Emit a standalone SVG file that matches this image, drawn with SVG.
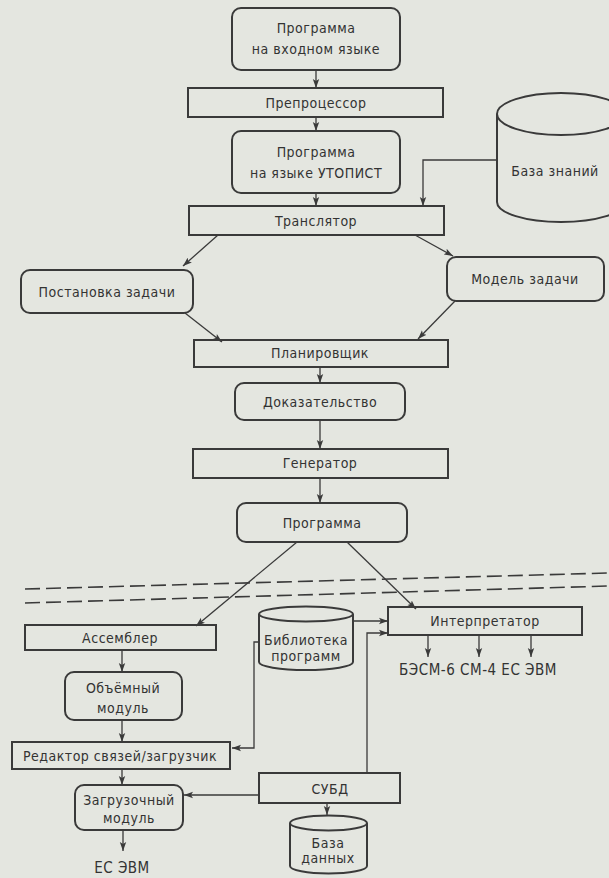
<svg xmlns="http://www.w3.org/2000/svg" width="609" height="878" viewBox="0 0 609 878">
<style>
.bg{fill:#e4e6e0}
.box{fill:none;stroke:#3a3a3a;stroke-width:2}
.t{font-family:"DejaVu Sans Condensed","DejaVu Sans","Liberation Sans",sans-serif;font-stretch:condensed;font-size:14px;fill:#333;text-anchor:middle;letter-spacing:0.5px}
.tb{font-size:15px}
.c{fill:none;stroke:#3a3a3a;stroke-width:1.3}
.d{fill:none;stroke:#3a3a3a;stroke-width:1.6;stroke-dasharray:15 6}
</style>
<defs>
<marker id="ah" markerWidth="10" markerHeight="8" refX="9" refY="4" orient="auto" markerUnits="userSpaceOnUse">
<path d="M0,0.8 L9,4 L0,7.2 L2,4 z" fill="#3a3a3a"/>
</marker>
</defs>
<rect class="bg" x="0" y="0" width="609" height="878"/>

<g id="connectors">
<path class="c" d="M316,70 V88" marker-end="url(#ah)"/>
<path class="c" d="M316,117 V131" marker-end="url(#ah)"/>
<path class="c" d="M316,193 V206" marker-end="url(#ah)"/>
<path class="c" d="M497,160 H423 V206" marker-end="url(#ah)"/>
<path class="c" d="M218,235 L183,266" marker-end="url(#ah)"/>
<path class="c" d="M415,235 L453,256" marker-end="url(#ah)"/>
<path class="c" d="M185,313 L222,342" marker-end="url(#ah)"/>
<path class="c" d="M455,301 L418,339" marker-end="url(#ah)"/>
<path class="c" d="M320,367 V383" marker-end="url(#ah)"/>
<path class="c" d="M320,420 V449" marker-end="url(#ah)"/>
<path class="c" d="M320,478 V503" marker-end="url(#ah)"/>
<path class="c" d="M297,542 L196,626" marker-end="url(#ah)"/>
<path class="c" d="M347,542 L416,609" marker-end="url(#ah)"/>
<path class="d" d="M25,589 L609,573"/>
<path class="d" d="M25,603 L609,586"/>
<path class="c" d="M353,621 H388" marker-end="url(#ah)"/>
<path class="c" d="M367,773 V633 H388" marker-end="url(#ah)"/>
<path class="c" d="M259,642 H254 V748 H232" marker-end="url(#ah)"/>
<path class="c" d="M428,635 V657" marker-end="url(#ah)"/>
<path class="c" d="M479,635 V657" marker-end="url(#ah)"/>
<path class="c" d="M531,635 V657" marker-end="url(#ah)"/>
<path class="c" d="M122,650 V672" marker-end="url(#ah)"/>
<path class="c" d="M122,720 V742" marker-end="url(#ah)"/>
<path class="c" d="M122,769 V785" marker-end="url(#ah)"/>
<path class="c" d="M123,830 V851" marker-end="url(#ah)"/>
<path class="c" d="M259,795 H184" marker-end="url(#ah)"/>
<path class="c" d="M327,803 V815" marker-end="url(#ah)"/>
</g>

<g id="n-input">
<rect class="box" x="232" y="8" width="168" height="62" rx="9"/>
<text class="t" x="316" y="33">Программа</text>
<text class="t" x="316" y="54">на входном языке</text>
</g>
<g id="n-preproc">
<rect class="box" x="188" y="88" width="255" height="29"/>
<text class="t" x="316" y="108">Препроцессор</text>
</g>
<g id="n-utopist">
<rect class="box" x="232" y="131" width="168" height="62" rx="9"/>
<text class="t" x="316" y="157">Программа</text>
<text class="t" x="316" y="178">на языке УТОПИСТ</text>
</g>
<g id="n-translator">
<rect class="box" x="189" y="206" width="255" height="29"/>
<text class="t" x="316" y="226">Транслятор</text>
</g>
<g id="n-kb">
<path class="box" d="M497,114 A64,21 0 0 1 625,114 V202 A64,20 0 0 1 497,202 Z M497,114 A64,21 0 0 0 625,114"/>
<text class="t" x="555" y="176">База знаний</text>
</g>
<g id="n-statement">
<rect class="box" x="21" y="270" width="172" height="43" rx="9"/>
<text class="t" x="107" y="297">Постановка задачи</text>
</g>
<g id="n-model">
<rect class="box" x="447" y="257" width="157" height="44" rx="9"/>
<text class="t" x="525" y="284">Модель задачи</text>
</g>
<g id="n-planner">
<rect class="box" x="194" y="340" width="254" height="27"/>
<text class="t" x="320" y="358">Планировщик</text>
</g>
<g id="n-proof">
<rect class="box" x="235" y="383" width="170" height="37" rx="9"/>
<text class="t" x="320" y="407">Доказательство</text>
</g>
<g id="n-generator">
<rect class="box" x="193" y="449" width="255" height="29"/>
<text class="t" x="320" y="468">Генератор</text>
</g>
<g id="n-program">
<rect class="box" x="237" y="503" width="170" height="39" rx="9"/>
<text class="t" x="322" y="528">Программа</text>
</g>
<g id="n-assembler">
<rect class="box" x="25" y="625" width="191" height="25"/>
<text class="t" x="120" y="643">Ассемблер</text>
</g>
<g id="n-library">
<path class="box" d="M259,614 A47,7.5 0 0 1 353,614 V662 A47,8 0 0 1 259,662 Z M259,614 A47,7.5 0 0 0 353,614"/>
<text class="t" x="306" y="645">Библиотека</text>
<text class="t" x="306" y="661">программ</text>
</g>
<g id="n-interp">
<rect class="box" x="388" y="607" width="194" height="28"/>
<text class="t" x="485" y="626">Интерпретатор</text>
</g>
<g id="n-targets">
<text class="t tb" x="478" y="675">БЭСМ-6 СМ-4 ЕС ЭВМ</text>
</g>
<g id="n-object">
<rect class="box" x="65" y="672" width="117" height="48" rx="9"/>
<text class="t" x="123" y="693">Объёмный</text>
<text class="t" x="123" y="713">модуль</text>
</g>
<g id="n-linker">
<rect class="box" x="12" y="742" width="218" height="27"/>
<text class="t" x="120" y="761">Редактор связей/загрузчик</text>
</g>
<g id="n-load">
<rect class="box" x="75" y="785" width="108" height="45" rx="9"/>
<text class="t" x="129" y="805">Загрузочный</text>
<text class="t" x="129" y="823">модуль</text>
</g>
<g id="n-ec">
<text class="t tb" x="122" y="873">ЕС ЭВМ</text>
</g>
<g id="n-dbms">
<rect class="box" x="259" y="773" width="141" height="30"/>
<text class="t" x="330" y="794">СУБД</text>
</g>
<g id="n-db">
<path class="box" d="M290,823 A38.5,7.5 0 0 1 367,823 V866 A38.5,7.5 0 0 1 290,866 Z M290,823 A38.5,7.5 0 0 0 367,823"/>
<text class="t" x="328" y="848">База</text>
<text class="t" x="328" y="863">данных</text>
</g>
</svg>
